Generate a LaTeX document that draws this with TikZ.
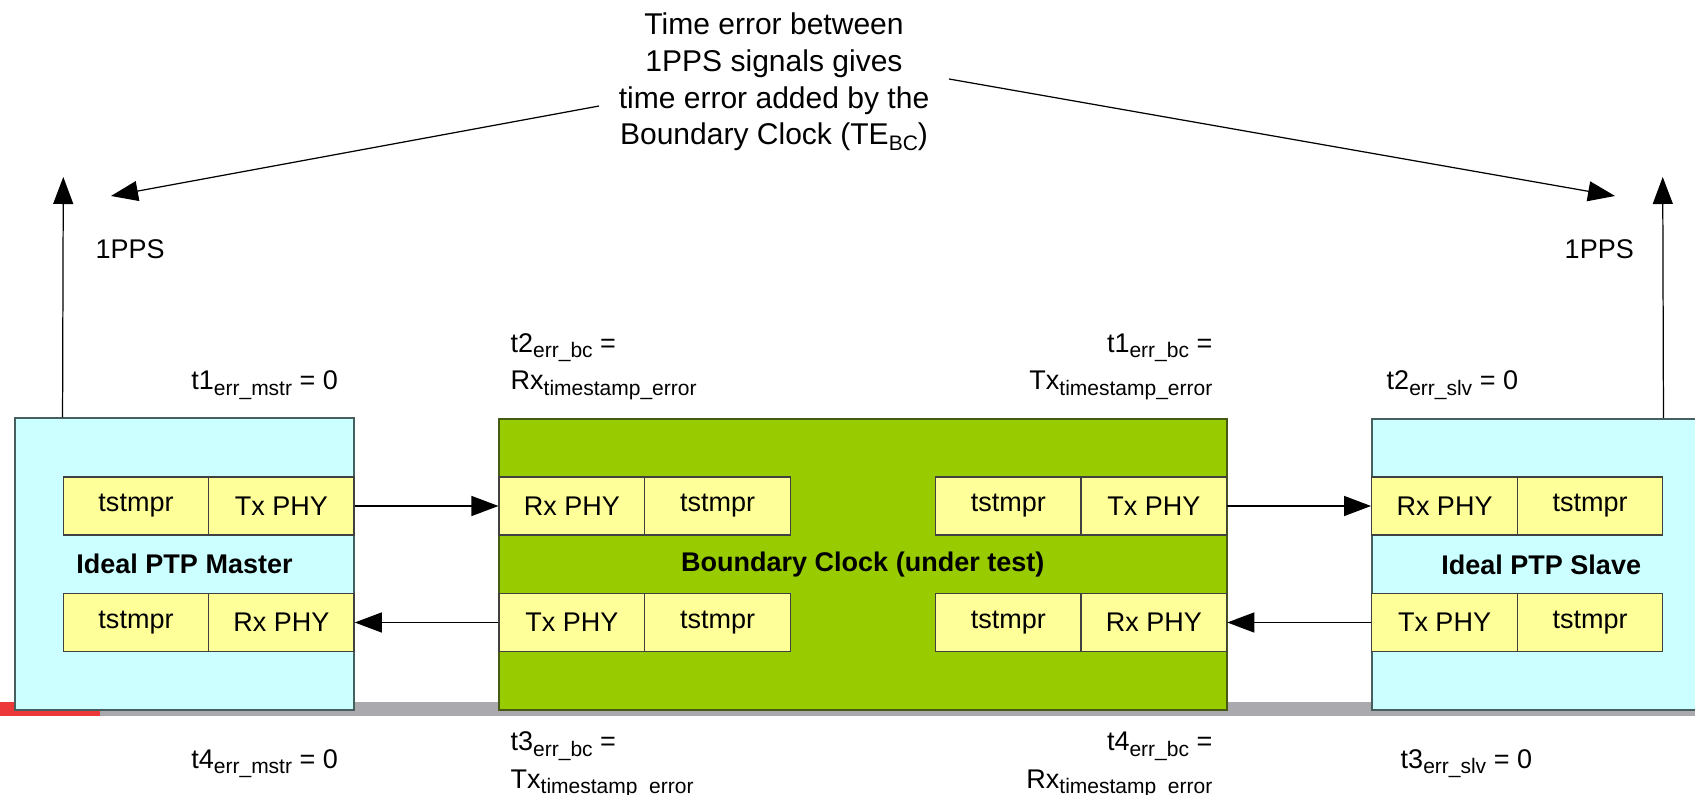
\documentclass[tikz,border=0pt]{standalone}
\usepackage{fontspec}
\setmainfont{Liberation Sans}
\definecolor{idealfill}{RGB}{204,255,255}
\definecolor{idealline}{RGB}{70,95,95}
\definecolor{bcfill}{RGB}{153,204,0}
\definecolor{bcline}{RGB}{70,90,20}
\definecolor{cellfill}{RGB}{255,255,153}
\definecolor{barred}{RGB}{236,56,56}
\definecolor{bargray}{RGB}{170,170,174}
\usepackage{tikz}
\usetikzlibrary{arrows.meta,shapes}
\newcommand{\cellfont}{\fontsize{7.68}{10.8}\selectfont}
\newcommand{\notefont}{\fontsize{8.54}{10.43}\selectfont}
\newcommand{\lowtxt}[1]{\raisebox{-1.7pt}{\fontsize{5.97}{6}\selectfont #1}}
\tikzstyle{cell}=[draw=black!75,fill=cellfill,line width=0.4pt,minimum width=1.454cm,minimum height=0.577cm,inner sep=0pt,font=\cellfont]
\tikzstyle{clockbox}=[line width=0.5pt,minimum height=2.915cm,inner sep=0pt,font=\cellfont\bfseries]
\tikzstyle{errlabel}=[inner sep=0pt,font=\cellfont]
\tikzstyle{link}=[draw,line width=0.35pt,-{Triangle[length=0.27cm,width=0.2cm]}]

\begin{document}
\begin{tikzpicture}[x=0.01cm,y=-0.01cm]

            % strip along the bottom
            \fill[bargray] (100,701.5) rectangle (1700,715.5);
            \fill[barred] (0,701.5) rectangle (100,715.5);

            \node[clockbox,draw=idealline,fill=idealfill,minimum width=3.39cm] (mstr) at (184.5,564.2) {Ideal PTP Master};
            \node[clockbox,draw=bcline,fill=bcfill,minimum width=7.275cm] (bc) at (862.75,564.5) {Boundary Clock (under test)};
            \node[clockbox,draw=idealline,fill=idealfill,minimum width=3.39cm] (slv) at (1541.2,564.5) {Ideal PTP Slave};

            \node[cell] (mts1) at (136,506) {tstmpr};
            \node[cell] (mtx) at (281.3,506) {Tx PHY};
            \node[cell] (mts2) at (136,622.5) {tstmpr};
            \node[cell] (mrx) at (281.3,622.5) {Rx PHY};

            \node[cell] (brx1) at (571.9,506) {Rx PHY};
            \node[cell] (bts1) at (717.5,506) {tstmpr};
            \node[cell] (bts2) at (1008.3,506) {tstmpr};
            \node[cell] (btx2) at (1153.8,506) {Tx PHY};
            \node[cell] (btx1) at (571.9,622.5) {Tx PHY};
            \node[cell] (bts3) at (717.5,622.5) {tstmpr};
            \node[cell] (bts4) at (1008.3,622.5) {tstmpr};
            \node[cell] (brx2) at (1153.8,622.5) {Rx PHY};

            \node[cell] (srx) at (1444.5,506) {Rx PHY};
            \node[cell] (sts1) at (1590,506) {tstmpr};
            \node[cell] (stx) at (1444.5,622.5) {Tx PHY};
            \node[cell] (sts2) at (1590,622.5) {tstmpr};

            \path[link] (mtx) -- (brx1);
            \path[link] (btx1) -- (mrx);
            \path[link] (btx2) -- (srx);
            \path[link] (stx) -- (brx2);

            % 1PPS outputs
            \coordinate (mpps) at (63.3,177);
            \coordinate (spps) at (1662.7,177);
            \path[link] (mts1.west |- mstr.north) -- (mpps);
            \path[link] (sts1.east |- slv.north) -- (spps);
            \node[errlabel,anchor=base west] (ppsm) at (95,259) {1PPS};
            \node[errlabel,anchor=base west] (ppss) at (1564,259) {1PPS};

            \node[font=\notefont,align=center,inner xsep=0.19cm,inner ysep=0pt] (note) at (774,82)
                {Time error between\\1PPS signals gives\\time error added by the\\Boundary Clock (TE\lowtxt{BC})};
            \coordinate (lhit) at (111,196);
            \coordinate (rhit) at (1615,196);
            \path[link] ([yshift=-0.24cm]note.west) -- (lhit);
            \path[link] ([yshift=0.03cm]note.east) -- (rhit);

            % timestamp errors (base = last line)
            \node[errlabel,anchor=base west] (t1m) at (190.7,390) {t1\lowtxt{err\_mstr} = 0};
            \node[errlabel,anchor=base west] (t4m) at (190.7,768) {t4\lowtxt{err\_mstr} = 0};
            \node[errlabel,anchor=base west] (t2s) at (1386,390) {t2\lowtxt{err\_slv} = 0};
            \node[errlabel,anchor=base west] (t3s) at (1400,768) {t3\lowtxt{err\_slv} = 0};
            \node[errlabel,align=left,anchor=base west] (t2b) at (510,390) {t2\lowtxt{err\_bc} =\\Rx\lowtxt{timestamp\_error}};
            \node[errlabel,align=right,anchor=base east] (t1b) at (1213,390) {t1\lowtxt{err\_bc} =\\Tx\lowtxt{timestamp\_error}};
            \node[errlabel,align=left,anchor=base west] (t3b) at (510,788) {t3\lowtxt{err\_bc} =\\Tx\lowtxt{timestamp\_error}};
            \node[errlabel,align=right,anchor=base east] (t4b) at (1213,788) {t4\lowtxt{err\_bc} =\\Rx\lowtxt{timestamp\_error}};

            \pgfresetboundingbox
            \path [use as bounding box] (0,0) rectangle (1695,795);
\end{tikzpicture}
\end{document}
